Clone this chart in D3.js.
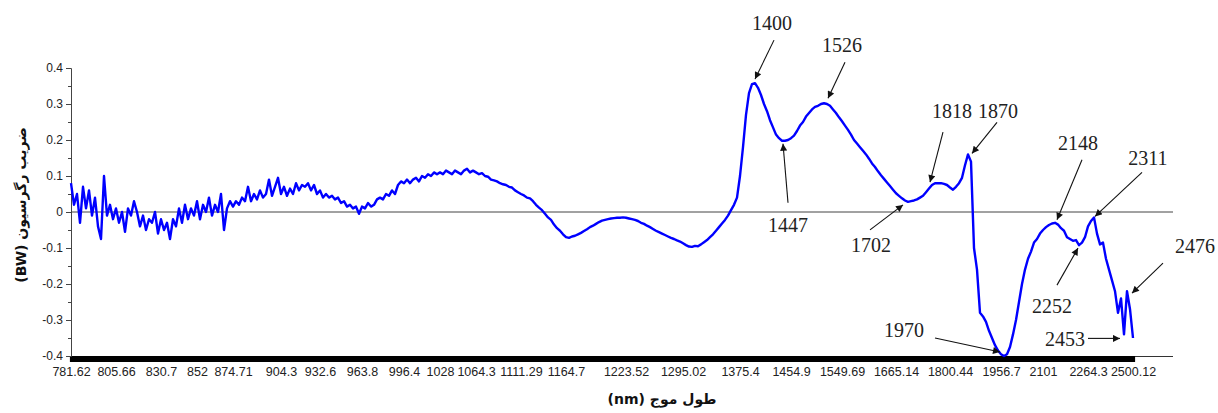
<!DOCTYPE html>
<html>
<head>
<meta charset="utf-8">
<script src="https://cdn.jsdelivr.net/npm/d3@7"></script>
<style>
  body { margin: 0; background: #fff; }
  svg { display: block; }
</style>
</head>
<body>
<svg id="chart" width="1218" height="413"></svg>
<script>
// regression coefficient (BW) per wavelength step
const values = [
  0.08, 0.02, 0.05, -0.03, 0.07, 0.01, 0.06, -0.01, 0.04, -0.04,
  -0.075, 0.10, -0.01, 0.02, -0.02, 0.01, -0.03, 0.00, -0.055, 0.01,
  -0.01, 0.03, 0.00, -0.04, -0.01, -0.05, -0.02, -0.03, 0.00, -0.06,
  -0.02, -0.05, -0.03, -0.075, -0.02, -0.04, 0.01, -0.03, 0.02, -0.02,
  0.01, -0.01, 0.03, -0.02, 0.02, 0.00, 0.04, -0.01, 0.02, 0.00,
  0.05, -0.05, 0.01, 0.03, 0.015, 0.03, 0.02, 0.04, 0.03, 0.07,
  0.03, 0.05, 0.035, 0.06, 0.04, 0.05, 0.09, 0.045, 0.07, 0.095,
  0.05, 0.07, 0.045, 0.065, 0.05, 0.08, 0.06, 0.075, 0.07, 0.08,
  0.06, 0.075, 0.05, 0.06, 0.04, 0.05, 0.04, 0.045, 0.035, 0.04,
  0.025, 0.03, 0.015, 0.02, 0.01, 0.015, -0.005, 0.015, 0.01, 0.025,
  0.015, 0.02, 0.035, 0.04, 0.035, 0.05, 0.045, 0.06, 0.05, 0.075,
  0.085, 0.08, 0.09, 0.08, 0.09, 0.095, 0.085, 0.10, 0.095, 0.105,
  0.10, 0.11, 0.105, 0.11, 0.105, 0.115, 0.11, 0.105, 0.115, 0.11,
  0.105, 0.115, 0.12, 0.11, 0.115, 0.11, 0.105, 0.108, 0.10, 0.098,
  0.09, 0.088, 0.085, 0.08, 0.077, 0.075, 0.07, 0.068, 0.06, 0.055,
  0.05, 0.046, 0.04, 0.038, 0.03, 0.02, 0.012, 0.005, -0.005, -0.015,
  -0.022, -0.035, -0.045, -0.052, -0.062, -0.07, -0.072, -0.068, -0.066, -0.062,
  -0.058, -0.053, -0.048, -0.042, -0.038, -0.033, -0.028, -0.024, -0.022, -0.02,
  -0.018, -0.017, -0.016, -0.016, -0.015, -0.016, -0.018, -0.02, -0.022, -0.025,
  -0.03, -0.033, -0.038, -0.042, -0.047, -0.052, -0.056, -0.06, -0.064, -0.068,
  -0.072, -0.075, -0.079, -0.082, -0.087, -0.092, -0.096, -0.097, -0.094, -0.095,
  -0.09, -0.084, -0.078, -0.07, -0.062, -0.052, -0.042, -0.032, -0.022, -0.01,
  0.005, 0.02, 0.04, 0.10, 0.18, 0.27, 0.33, 0.355, 0.358, 0.345,
  0.325, 0.30, 0.28, 0.255, 0.235, 0.215, 0.205, 0.198, 0.198, 0.20,
  0.205, 0.212, 0.225, 0.24, 0.25, 0.265, 0.275, 0.285, 0.292, 0.295,
  0.30, 0.302, 0.30, 0.295, 0.285, 0.275, 0.263, 0.252, 0.24, 0.228,
  0.215, 0.20, 0.19, 0.18, 0.17, 0.16, 0.148, 0.135, 0.125, 0.113,
  0.102, 0.092, 0.082, 0.072, 0.062, 0.052, 0.045, 0.038, 0.032, 0.028,
  0.03, 0.032, 0.035, 0.04, 0.045, 0.055, 0.065, 0.075, 0.08, 0.08,
  0.08, 0.078, 0.075, 0.068, 0.062, 0.07, 0.08, 0.095, 0.13, 0.16,
  0.14, -0.10, -0.16, -0.28, -0.29, -0.305, -0.33, -0.35, -0.37, -0.385,
  -0.395, -0.40, -0.395, -0.375, -0.34, -0.30, -0.25, -0.20, -0.16, -0.13,
  -0.11, -0.085, -0.075, -0.06, -0.05, -0.042, -0.036, -0.032, -0.03, -0.035,
  -0.045, -0.052, -0.07, -0.075, -0.08, -0.078, -0.092, -0.085, -0.07, -0.04,
  -0.025, -0.015, -0.06, -0.09, -0.085, -0.13, -0.16, -0.19, -0.22, -0.28,
  -0.24, -0.34, -0.22, -0.27, -0.35
];

// wavelength labels on the category axis and the step they sit on
const tickLabels = ["781.62", "805.66", "830.7", "852", "874.71", "904.3", "932.6", "963.8",
  "996.4", "1028", "1064.3", "1111.29", "1164.7", "1223.52", "1295.02", "1375.4", "1454.9",
  "1549.69", "1665.14", "1800.44", "1956.7", "2101", "2264.3", "2500.12"];
const tickIndex = [0, 15, 30, 42, 54, 70, 83, 97, 111, 123, 135, 150, 165, 185, 204, 223,
  240, 257, 275, 293, 310, 324, 339, 354];

const yTicks = [-0.4, -0.3, -0.2, -0.1, 0, 0.1, 0.2, 0.3, 0.4];

// annotated wavelengths (nm) and the step they point at
const peakLabels = ["1400", "1526", "1447", "1702", "1818", "1870", "1970", "2148", "2252", "2311", "2453", "2476"];
const peakIndex = [228, 251, 238, 279, 288, 299, 311, 328, 336, 341, 351, 352];

const yTitle = "ضریب رگرسیون (BW)";
const xTitle = "طول موج (nm)";

// where each annotation's arrow tip, arrow tail and text go, relative to its point
const annotLayout = {
  "1400": { tip: [0, -4], tail: [19, -43], text: [17, -53] },
  "1526": { tip: [4, -5], tail: [21, -41], text: [18, -51] },
  "1447": { tip: [-2, 3], tail: [3, 62], text: [3, 91] },
  "1702": { tip: [-5, 3], tail: [-38, 28], text: [-37, 50] },
  "1818": { tip: [-5, -1], tail: [8, -51], text: [17, -65] },
  "1870": { tip: [4, -1], tail: [29, -32], text: [30, -36] },
  "1970": { tip: [-4, -4], tail: [-69, -18], text: [-100, -19] },
  "2148": { tip: [2, -3], tail: [27, -63], text: [23, -73] },
  "2252": { tip: [-1, 3], tail: [-22, 40], text: [-27, 68] },
  "2311": { tip: [1, -1], tail: [48, -45], text: [54, -52] },
  "2453": { tip: [-4, 4], tail: [-36, 4], text: [-59, 12] },
  "2476": { tip: [5, 2], tail: [36, -28], text: [68, -38] }
};

const svg = d3.select("#chart");
const left = 71, right = 1133, plotRight = 1173;

const x = d3.scaleLinear().domain([0, values.length - 1]).range([left, right]);
const y = d3.scaleLinear().domain([-0.4, 0.4]).range([356, 68]);

// zero line
svg.append("line")
  .attr("x1", left).attr("x2", plotRight)
  .attr("y1", y(0)).attr("y2", y(0))
  .attr("stroke", "#444").attr("stroke-width", 1);

// x axis: one tick per step, they merge into the black band
svg.append("line")
  .attr("x1", left).attr("x2", plotRight)
  .attr("y1", y(-0.4) + 0.5).attr("y2", y(-0.4) + 0.5)
  .attr("stroke", "#333").attr("stroke-width", 1);

const band = svg.append("g")
  .attr("transform", `translate(0,${y(-0.4)})`)
  .call(d3.axisBottom(x).tickValues(d3.range(values.length)).tickSize(6).tickFormat(""));
band.select(".domain").remove();
band.selectAll(".tick line").attr("stroke", "#000").attr("stroke-width", 3.2);

const xLab = svg.append("g")
  .attr("transform", `translate(0,${y(-0.4)})`)
  .call(d3.axisBottom(x).tickValues(tickIndex).tickSize(0).tickPadding(11)
    .tickFormat((d, i) => tickLabels[i]));
xLab.select(".domain").remove();
xLab.selectAll("text")
  .attr("font-family", "Liberation Sans, Arial, sans-serif")
  .attr("font-size", 12.5)
  .attr("fill", "#222");

// y axis with minor ticks
const yMinor = svg.append("g")
  .attr("transform", `translate(${left},0)`)
  .call(d3.axisLeft(y).tickValues(d3.range(-0.35, 0.4, 0.1)).tickSize(3).tickFormat(""));
yMinor.select(".domain").remove();
yMinor.selectAll(".tick line").attr("stroke", "#444");

const yAx = svg.append("g")
  .attr("transform", `translate(${left},0)`)
  .call(d3.axisLeft(y).tickValues(yTicks).tickSize(5).tickPadding(3)
    .tickFormat(d => String(+d.toFixed(1))));
yAx.select(".domain").attr("stroke", "#444");
yAx.selectAll(".tick line").attr("stroke", "#444");
yAx.selectAll("text")
  .attr("font-family", "Liberation Sans, Arial, sans-serif")
  .attr("font-size", 12)
  .attr("fill", "#222");

// the spectrum
const line = d3.line()
  .x((d, i) => x(i))
  .y(d => y(d));

svg.append("path")
  .datum(values)
  .attr("fill", "none")
  .attr("stroke", "#0000ff")
  .attr("stroke-width", 2.4)
  .attr("stroke-linejoin", "round")
  .attr("d", line);

// annotations
svg.append("defs").append("marker")
  .attr("id", "arrow")
  .attr("viewBox", "0 0 10 10")
  .attr("refX", 10).attr("refY", 5)
  .attr("markerWidth", 9).attr("markerHeight", 7)
  .attr("markerUnits", "userSpaceOnUse")
  .attr("orient", "auto")
  .append("path")
  .attr("d", "M0,0L10,5L0,10z")
  .attr("fill", "#111");

const notes = svg.append("g");
peakLabels.forEach((lab, k) => {
  const px = x(peakIndex[k]), py = y(values[peakIndex[k]]);
  const L = annotLayout[lab];
  notes.append("line")
    .attr("x1", px + L.tail[0]).attr("y1", py + L.tail[1])
    .attr("x2", px + L.tip[0]).attr("y2", py + L.tip[1])
    .attr("stroke", "#111").attr("stroke-width", 1.1)
    .attr("marker-end", "url(#arrow)");
  notes.append("text")
    .attr("x", px + L.text[0]).attr("y", py + L.text[1])
    .attr("text-anchor", "middle")
    .attr("font-family", "Liberation Serif, Times New Roman, serif")
    .attr("font-size", 20)
    .attr("fill", "#222")
    .text(lab);
});

// axis titles
svg.append("text")
  .attr("transform", "translate(22,205) rotate(-90)")
  .attr("text-anchor", "middle")
  .attr("direction", "rtl")
  .attr("dominant-baseline", "middle")
  .attr("font-family", "DejaVu Sans, sans-serif")
  .attr("font-weight", "bold")
  .attr("font-size", 14)
  .attr("fill", "#111")
  .text(yTitle);

svg.append("text")
  .attr("x", 662).attr("y", 404)
  .attr("text-anchor", "middle")
  .attr("direction", "rtl")
  .attr("font-family", "DejaVu Sans, sans-serif")
  .attr("font-weight", "bold")
  .attr("font-size", 14)
  .attr("fill", "#111")
  .text(xTitle);
</script>
</body>
</html>
